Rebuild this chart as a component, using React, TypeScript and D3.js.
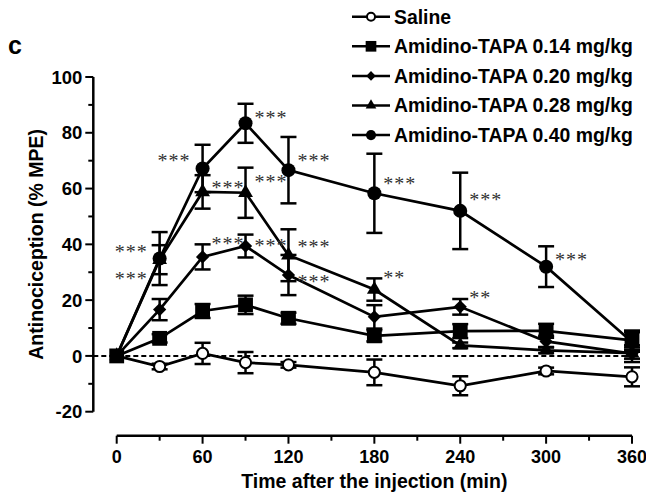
import React from "react";
import * as d3 from "d3";

const times = [0, 30, 60, 90, 120, 180, 240, 300, 360];

const salineMean = [0, -3.8, 0.9, -2.4, -3.2, -5.9, -10.7, -5.4, -7.5];
const salineSem = [0, 1, 3.8, 3.8, 1, 4.6, 3.4, 1.2, 3.4];
const dose014Mean = [0, 6.3, 16.1, 18.3, 13.5, 7.2, 8.9, 9, 5.6];
const dose014Sem = [0, 1.5, 2.5, 3.3, 2, 2, 2.5, 2.5, 3.5];
const dose020Mean = [0, 16.6, 35.5, 39.4, 29, 14, 17.6, 5.2, 0.8];
const dose020Sem = [0, 3.8, 4.5, 4.1, 7.2, 4.2, 2.8, 2, 3];
const dose028Mean = [0, 34.5, 58.8, 58.5, 36.1, 23.8, 3.8, 2, 1];
const dose028Sem = [0, 5.2, 6, 9, 9.3, 4, 1, 1, 2];
const dose040Mean = [0, 34.9, 67.2, 83.4, 66.6, 58.3, 52, 32, 5];
const dose040Sem = [0, 9.5, 8.5, 7, 11.9, 14.2, 13.7, 7.3, 3.5];

const legendLabels = [
  "Saline",
  "Amidino-TAPA 0.14 mg/kg",
  "Amidino-TAPA 0.20 mg/kg",
  "Amidino-TAPA 0.28 mg/kg",
  "Amidino-TAPA 0.40 mg/kg",
];

// significance marks: [time, value, text, side]
const stars: [number, number, string, string][] = [
  [30, 39.5, "***", "left"],
  [30, 29.6, "***", "left"],
  [60, 71.9, "***", "left"],
  [60, 62.4, "***", "right"],
  [60, 42.4, "***", "right"],
  [90, 87.3, "***", "right"],
  [90, 64.4, "***", "right"],
  [90, 41.7, "***", "right"],
  [120, 71.9, "***", "right"],
  [120, 41.2, "***", "right"],
  [120, 28.6, "***", "right"],
  [180, 63.7, "***", "right"],
  [180, 30, "**", "right"],
  [240, 58, "***", "right"],
  [240, 22.8, "**", "right"],
  [300, 36.5, "***", "right"],
];

const xTicks = [0, 60, 120, 180, 240, 300, 360];
const yTicks = [-20, 0, 20, 40, 60, 80, 100];

const series = [
  { name: legendLabels[0], mean: salineMean, sem: salineSem, shape: "openCircle" },
  { name: legendLabels[4], mean: dose040Mean, sem: dose040Sem, shape: "circle" },
  { name: legendLabels[3], mean: dose028Mean, sem: dose028Sem, shape: "triangle" },
  { name: legendLabels[2], mean: dose020Mean, sem: dose020Sem, shape: "diamond" },
  { name: legendLabels[1], mean: dose014Mean, sem: dose014Sem, shape: "square" },
];

const font = "'Liberation Sans', Arial, sans-serif";

function symbolPath(shape: string, k = 1) {
  if (shape === "square") return d3.symbol(d3.symbolSquare, 220 * k * k)()!;
  if (shape === "diamond") return d3.symbol(d3.symbolSquare, 88 * k * k)()!;
  if (shape === "triangle") return d3.symbol(d3.symbolTriangle, 95 * k * k)()!;
  if (shape === "openCircle") return d3.symbol(d3.symbolCircle, 98 * k * k)()!;
  return d3.symbol(d3.symbolCircle, 155 * k * k)()!;
}

function Marker({ shape, x, y, k = 1 }: { shape: string; x: number; y: number; k?: number }) {
  const rot = shape === "diamond" ? " rotate(45)" : "";
  return (
    <path
      d={symbolPath(shape, k)}
      transform={`translate(${x},${y})${rot}`}
      fill={shape === "openCircle" ? "#fff" : "#000"}
      stroke="#000"
      strokeWidth={shape === "openCircle" ? 2 : 0}
    />
  );
}

export default function App() {
  const width = 646;
  const height = 494;
  const x = d3.scaleLinear().domain([0, 360]).range([116.7, 632]);
  const y = d3.scaleLinear().domain([-20, 100]).range([411.7, 77]);
  const axisX = 93.3;
  const axisY = 435.7;

  const line = d3
    .line<number>()
    .x((_, i) => x(times[i]))
    .y((d) => y(d));

  const yMinor = d3.range(-10, 100, 20);
  const xMinor = d3.range(30, 360, 60);

  return (
    <svg
      width={width}
      height={height}
      style={{ position: "absolute", left: 0, top: 0, background: "#fff" }}
      fontFamily={font}
    >
      <rect width={width} height={height} fill="#fff" />
      <text x={8} y={54} fontSize={25} fontWeight="bold">
        c
      </text>

      {/* y axis */}
      <line x1={axisX} x2={axisX} y1={y(-20)} y2={y(100)} stroke="#000" strokeWidth={2.5} />
      {yTicks.map((t) => (
        <g key={t}>
          <line x1={axisX - 8} x2={axisX} y1={y(t)} y2={y(t)} stroke="#000" strokeWidth={2} />
          <text
            x={axisX - 11}
            y={y(t)}
            dy="0.36em"
            textAnchor="end"
            fontSize={18.5}
            fontWeight="bold"
          >
            {t}
          </text>
        </g>
      ))}
      {yMinor.map((t) => (
        <line key={t} x1={axisX - 5} x2={axisX} y1={y(t)} y2={y(t)} stroke="#000" strokeWidth={2} />
      ))}
      <text
        transform={`translate(43,${(y(-20) + y(100)) / 2}) rotate(-90)`}
        textAnchor="middle"
        fontSize={19.5}
        fontWeight="bold"
      >
        Antinociception (% MPE)
      </text>

      {/* x axis */}
      <line x1={x(0)} x2={x(360)} y1={axisY} y2={axisY} stroke="#000" strokeWidth={2.5} />
      {xTicks.map((t) => (
        <g key={t}>
          <line x1={x(t)} x2={x(t)} y1={axisY} y2={axisY + 8} stroke="#000" strokeWidth={2} />
          <text x={x(t)} y={463} textAnchor="middle" fontSize={18} fontWeight="bold">
            {t}
          </text>
        </g>
      ))}
      {xMinor.map((t) => (
        <line key={t} x1={x(t)} x2={x(t)} y1={axisY} y2={axisY + 5} stroke="#000" strokeWidth={2} />
      ))}
      <text x={(x(0) + x(360)) / 2} y={488} textAnchor="middle" fontSize={19.5} fontWeight="bold">
        Time after the injection (min)
      </text>

      {/* zero line */}
      <line
        x1={axisX}
        x2={x(360)}
        y1={y(0)}
        y2={y(0)}
        stroke="#000"
        strokeWidth={2}
        strokeDasharray="5,3"
      />

      {/* series */}
      {series.map((s) => (
        <g key={s.name}>
          {s.mean.map((m, i) =>
            s.sem[i] > 0 ? (
              <g key={i} stroke="#000" strokeWidth={2.5}>
                <line x1={x(times[i])} x2={x(times[i])} y1={y(m - s.sem[i])} y2={y(m + s.sem[i])} />
                <line x1={x(times[i]) - 8} x2={x(times[i]) + 8} y1={y(m + s.sem[i])} y2={y(m + s.sem[i])} />
                <line x1={x(times[i]) - 8} x2={x(times[i]) + 8} y1={y(m - s.sem[i])} y2={y(m - s.sem[i])} />
              </g>
            ) : null
          )}
          <path d={line(s.mean)!} fill="none" stroke="#000" strokeWidth={2.7} />
        </g>
      ))}
      {series.map((s) => (
        <g key={s.name + "m"}>
          {s.mean.map((m, i) => (
            <Marker key={i} shape={s.shape} x={x(times[i])} y={y(m)} />
          ))}
        </g>
      ))}

      {/* stars */}
      {stars.map(([t, v, txt, side], i) => (
        <text
          key={i}
          x={side === "left" ? x(t) - 12 : x(t) + 9}
          y={y(v)}
          dy="0.6em"
          textAnchor={side === "left" ? "end" : "start"}
          fontFamily="'Liberation Serif', 'Times New Roman', serif"
          fontSize={20}
          letterSpacing={1}
          fill="#333"
          style={{ textRendering: "geometricPrecision" }}
        >
          {txt}
        </text>
      ))}

      {/* legend */}
      {legendLabels.map((lab, i) => {
        const shape = ["openCircle", "square", "diamond", "triangle", "circle"][i];
        const base = 23.5 + i * 29.6;
        const cy = base - 6.8;
        return (
          <g key={lab}>
            <line x1={352} x2={390} y1={cy} y2={cy} stroke="#000" strokeWidth={2.5} />
            <Marker shape={shape} x={371} y={cy} k={0.72} />
            <text x={394} y={base} fontSize={19.4} fontWeight="bold">
              {lab}
            </text>
          </g>
        );
      })}
    </svg>
  );
}
